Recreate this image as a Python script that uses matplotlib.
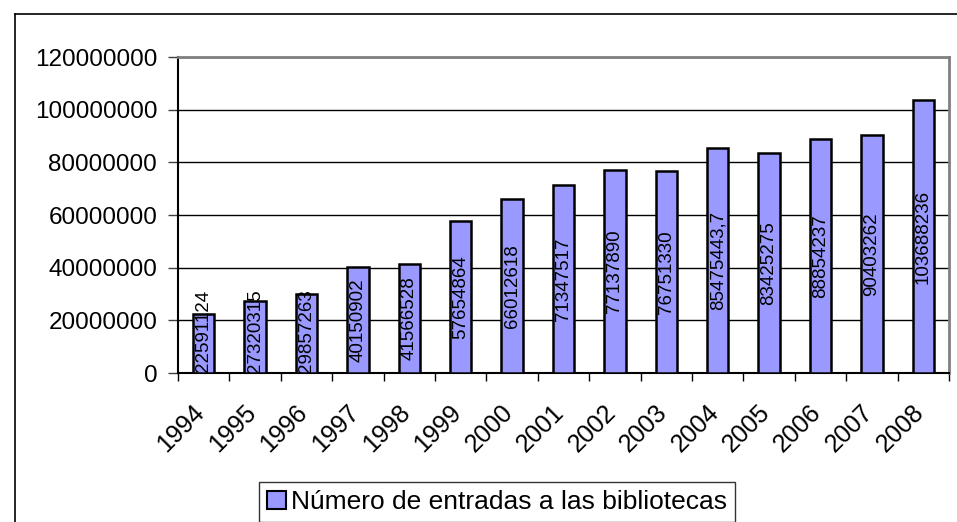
# coding:utf-8
import numpy as np
from matplotlib import pyplot as plt
from matplotlib.lines import Line2D
from matplotlib.patches import Patch

plt.rcParams['font.family'] = ['Liberation Sans', 'DejaVu Sans']

# datos
years = ["1994", "1995", "1996", "1997", "1998", "1999", "2000", "2001",
         "2002", "2003", "2004", "2005", "2006", "2007", "2008"]
entradas = [22591124, 27320315, 29857263, 40150902, 41566528, 57654864,
            66012618, 71347517, 77137890, 76751330, 85475443.7, 83425275,
            88854237, 90403262, 103688236]
etiquetas = ["22591124", "27320315", "29857263", "40150902", "41566528",
             "57654864", "66012618", "71347517", "77137890", "76751330",
             "85475443,7", "83425275", "88854237", "90403262", "103688236"]
y_ticks = [0, 20000000, 40000000, 60000000, 80000000, 100000000, 120000000]
serie = "Número de entradas a las bibliotecas"

color_barra = "#9999FF"

fig = plt.figure(figsize=(9.57, 5.22), dpi=100)
ax = fig.add_axes([178 / 957, 149 / 522, 771 / 957, 316 / 522])

x = np.arange(len(years))
ax.bar(x, entradas, width=0.42, color=color_barra, edgecolor="black",
       linewidth=1.8, zorder=3)

# etiquetas de datos centradas en la barra (sin salir por debajo del eje)
for xi, v, txt in zip(x, entradas, etiquetas):
    y_lab = max(v / 2, 16000000)
    ax.text(xi, y_lab, txt, rotation=90, ha="center", va="center",
            fontsize=13.5, zorder=4)

ax.set_xlim(-0.5, len(years) - 0.5)
ax.set_ylim(0, 120000000)
ax.set_yticks(y_ticks)
ax.set_yticklabels([str(v) for v in y_ticks], fontsize=17.5)
ax.yaxis.grid(True, color="black", linewidth=1.0, zorder=0)
ax.set_axisbelow(True)

# ticks del eje x entre categorias
ax.set_xticks(np.arange(-0.5, len(years), 1.0))
ax.set_xticklabels([])
ax.tick_params(axis="x", length=6, width=1, color="black")
ax.tick_params(axis="y", length=7, width=1, color="#404040", pad=8)
for xi, yr in zip(x, years):
    ax.text(xi - 0.22, -0.085, yr, rotation=45, ha="right", va="top",
            rotation_mode="anchor", fontsize=18,
            transform=ax.get_xaxis_transform())

ax.spines["left"].set_color("black")
ax.spines["left"].set_linewidth(1.5)
ax.spines["bottom"].set_color("black")
ax.spines["bottom"].set_linewidth(1.5)
ax.spines["top"].set_color("gray")
ax.spines["top"].set_linewidth(2)
ax.spines["right"].set_color("gray")
ax.spines["right"].set_linewidth(2)

# leyenda
handle = Patch(facecolor=color_barra, edgecolor="black", linewidth=1.5)
leg = fig.legend([handle], [serie], loc="center", fontsize=19,
                 bbox_to_anchor=(497 / 957, 1 - 502 / 522),
                 frameon=True, fancybox=False, handlelength=0.7,
                 handleheight=0.7, handletextpad=0.2, borderpad=0.3,
                 borderaxespad=0)
leg.get_frame().set_edgecolor("black")
leg.get_frame().set_linewidth(1)

# marco exterior
fig.add_artist(Line2D([15 / 957, 1], [1 - 14 / 522, 1 - 14 / 522],
                      color="black", linewidth=1.2))
fig.add_artist(Line2D([15 / 957, 15 / 957], [0, 1 - 14 / 522],
                      color="black", linewidth=1.2))

plt.savefig("out.png", dpi=100)
